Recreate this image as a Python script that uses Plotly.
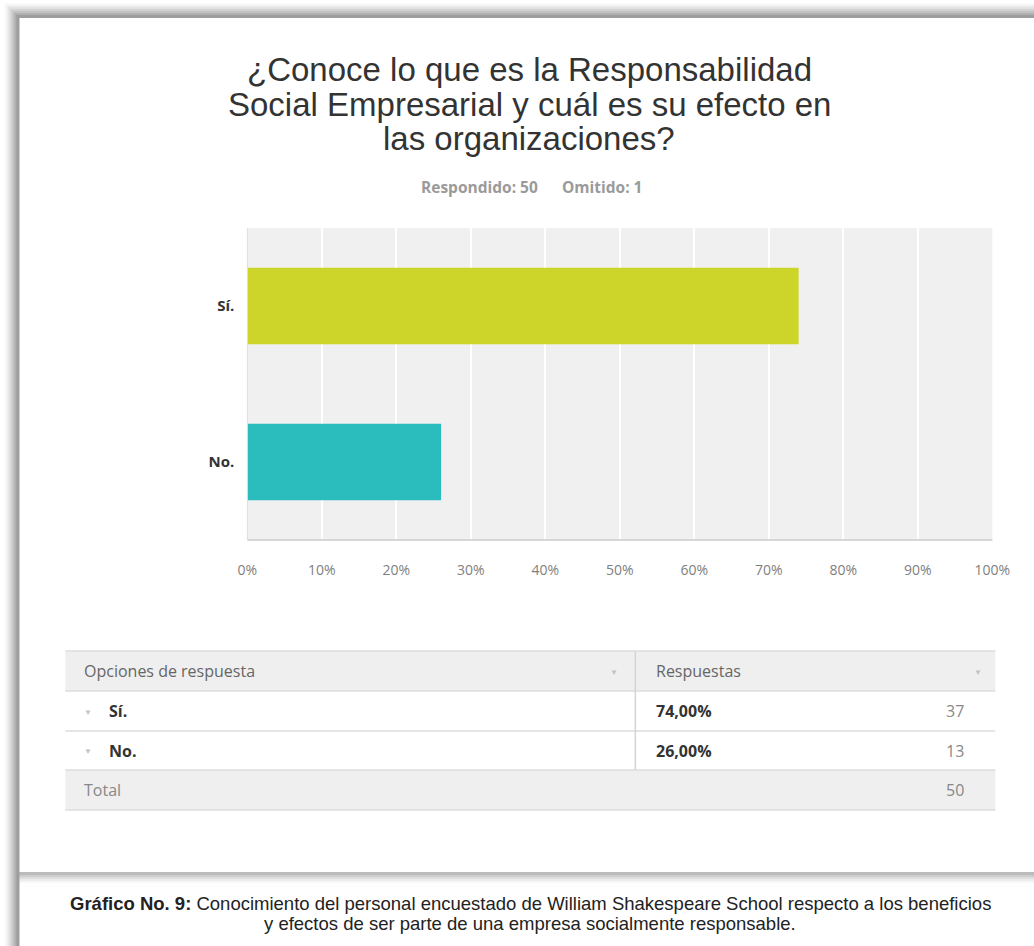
import plotly.graph_objects as go

# ---- data ----
categories = ["Sí.", "No."]
percentages = [74, 26]
counts = [37, 13]
total = 50
answered = 50
omitted = 1
tick_values = [0, 10, 20, 30, 40, 50, 60, 70, 80, 90, 100]
tick_labels = ["0%", "10%", "20%", "30%", "40%", "50%", "60%", "70%", "80%", "90%", "100%"]
bar_colors = ["#cdd52a", "#2bbcbe"]

W, H = 1034, 946
# horizontal calibration of the rendered page
XS, XO = 0.973, 9.6


def px(x):
    return (x - XO) / (XS * W)


def py(y):
    return 1 - y / H


FONT = "Liberation Sans, Arial, sans-serif"
SFONT = "Open Sans, sans-serif"

fig = go.Figure()
fig.add_trace(go.Bar(
    y=categories, x=percentages, orientation="h",
    marker=dict(color=bar_colors, line=dict(width=0)),
    width=0.49, hoverinfo="skip",
))

shapes = []
annotations = []

# ---- card shadows (soft gradient bands) ----
ops = [0.03, 0.05, 0.07, 0.09, 0.11, 0.13, 0.15]
for i, op in enumerate(ops):
    d = 15 - 2 * i
    shapes.append(dict(type="rect", xref="paper", yref="paper", layer="below",
                       x0=px(19 - d), x1=px(1040), y0=py(18), y1=py(18 - d),
                       fillcolor=f"rgba(60,60,60,{op})", line=dict(width=0)))
    shapes.append(dict(type="rect", xref="paper", yref="paper", layer="below",
                       x0=px(19 - d), x1=px(19), y0=0, y1=py(18),
                       fillcolor=f"rgba(60,60,60,{op})", line=dict(width=0)))
for i, op in enumerate([0.04, 0.06, 0.08, 0.1, 0.12]):
    d = 11 - 2 * i
    shapes.append(dict(type="rect", xref="paper", yref="paper", layer="below",
                       x0=px(19), x1=px(1040), y0=py(872 + d), y1=py(872),
                       fillcolor=f"rgba(60,60,60,{op})", line=dict(width=0)))

# ---- axis frame lines ----
shapes.append(dict(type="line", xref="paper", yref="paper",
                   x0=px(247), x1=px(992), y0=py(540), y1=py(540),
                   line=dict(color="#d6d6d6", width=2)))
shapes.append(dict(type="line", xref="paper", yref="paper",
                   x0=px(247), x1=px(247), y0=py(540), y1=py(228),
                   line=dict(color="#dedede", width=1)))

# ---- title & subtitle ----
title_lines = ["¿Conoce lo que es la Responsabilidad",
               "Social Empresarial y cuál es su efecto en",
               "las organizaciones?"]
for j, line in enumerate(title_lines):
    annotations.append(dict(text=line, xref="paper", yref="paper",
                            x=px(529), y=py(70 + 34 * j), showarrow=False,
                            xanchor="center", yanchor="middle",
                            font=dict(family=FONT, size=33, color="#333333")))
annotations.append(dict(
    text=f"<b>Respondido: {answered}</b>&nbsp;&nbsp;&nbsp;&nbsp;&nbsp;&nbsp;<b>Omitido: {omitted}</b>",
    xref="paper", yref="paper", x=px(531), y=py(187), showarrow=False,
    xanchor="center", yanchor="middle",
    font=dict(family=SFONT, size=15.5, color="#9a9a9a")))

# ---- table ----
tx0, tx1, tdiv = 65, 995, 635
row_tops = [651, 691, 731, 770, 810]
shapes.append(dict(type="rect", xref="paper", yref="paper", layer="below",
                   x0=px(tx0), x1=px(tx1), y0=py(row_tops[1]), y1=py(row_tops[0]),
                   fillcolor="#efefef", line=dict(width=0)))
shapes.append(dict(type="rect", xref="paper", yref="paper", layer="below",
                   x0=px(tx0), x1=px(tx1), y0=py(row_tops[4]), y1=py(row_tops[3]),
                   fillcolor="#efefef", line=dict(width=0)))
for yy in row_tops:
    shapes.append(dict(type="line", xref="paper", yref="paper",
                       x0=px(tx0), x1=px(tx1), y0=py(yy), y1=py(yy),
                       line=dict(color="#dcdcdc", width=1.5)))
shapes.append(dict(type="line", xref="paper", yref="paper",
                   x0=px(tdiv), x1=px(tdiv), y0=py(row_tops[3]), y1=py(row_tops[0]),
                   line=dict(color="#d4d4d4", width=1.5)))


def tcell(text, x, y, anchor="left", size=16, color="#555555", bold=False):
    if bold:
        text = f"<b>{text}</b>"
    annotations.append(dict(text=text, xref="paper", yref="paper",
                            x=px(x), y=py(y), showarrow=False,
                            xanchor=anchor, yanchor="middle",
                            font=dict(family=SFONT, size=size, color=color)))


def rmid(i):
    return (row_tops[i] + row_tops[i + 1]) / 2


tcell("Opciones de respuesta", 82, rmid(0), color="#666666")
tcell("▼", 614, rmid(0), anchor="center", size=8, color="#c4c4c4")
tcell("Respuestas", 654, rmid(0), color="#666666")
tcell("▼", 978, rmid(0), anchor="center", size=8, color="#c4c4c4")
for i, (cat, pct, cnt) in enumerate(zip(categories, percentages, counts)):
    r = rmid(i + 1)
    tcell("▼", 88, r, anchor="center", size=8, color="#c4c4c4")
    tcell(cat, 107, r, color="#333333", bold=True)
    tcell(f"{pct:.2f}%".replace(".", ","), 654, r, color="#333333", bold=True)
    tcell(str(cnt), 966, r, anchor="right", color="#888888")
tcell("Total", 82, rmid(3), color="#888888")
tcell(str(total), 966, rmid(3), anchor="right", color="#888888")

# ---- caption ----
annotations.append(dict(
    text="<b>Gráfico No. 9:</b> Conocimiento del personal encuestado de William Shakespeare School respecto a los beneficios",
    xref="paper", yref="paper", x=px(530), y=py(903), showarrow=False,
    xanchor="center", yanchor="middle",
    font=dict(family=FONT, size=18.5, color="#222222")))
annotations.append(dict(
    text="y efectos de ser parte de una empresa socialmente responsable.",
    xref="paper", yref="paper", x=px(530), y=py(923), showarrow=False,
    xanchor="center", yanchor="middle",
    font=dict(family=FONT, size=18.5, color="#222222")))

fig.update_layout(
    width=W, height=H, autosize=False,
    margin=dict(l=0, r=0, t=0, b=0),
    paper_bgcolor="white",
    plot_bgcolor="#f0f0f1",
    showlegend=False,
    bargap=0.5,
    shapes=shapes,
    annotations=annotations,
    xaxis=dict(domain=[px(247), px(992)], range=[0, 100],
               tickvals=tick_values, ticktext=tick_labels,
               showgrid=True, gridcolor="#ffffff", gridwidth=1.5,
               zeroline=False, showline=False, ticks="",
               ticklabelstandoff=20,
               tickfont=dict(family=SFONT, size=14, color="#808080"),
               fixedrange=True),
    yaxis=dict(domain=[py(540), py(228)], autorange="reversed",
               showgrid=False, zeroline=False, showline=False, ticks="",
               ticklabelstandoff=12,
               tickfont=dict(family=SFONT, size=15, color="#333333", weight="bold"),
               fixedrange=True),
)

fig.write_html(
    "out.html",
    config=dict(displayModeBar=False, responsive=False),
    post_script="document.body.style.margin='0';document.body.style.overflow='hidden';",
)
